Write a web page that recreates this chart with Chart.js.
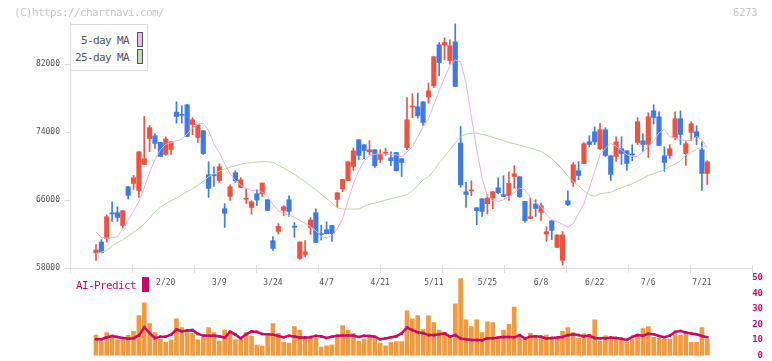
<!DOCTYPE html>
<html>
<head>
<meta charset="utf-8">
<script src="https://cdn.jsdelivr.net/npm/chart.js@4.4.1/dist/chart.umd.min.js"></script>
<style>
  body { margin: 0; background: #fff; }
  #wrap { position: relative; width: 772px; height: 361px; overflow: hidden; font-family: "DejaVu Sans Mono", monospace; }
  #wrap canvas { position: absolute; left: 0; top: 0; }
  .txt { position: absolute; font-size: 11px; letter-spacing: -0.62px; line-height: 11px; white-space: nowrap; }
  #legend { position: absolute; left: 70px; top: 24px; width: 78px; height: 47px; box-sizing: border-box; border: 1px solid #ddd; background: #fff; }
  .sw { position: absolute; width: 6px; height: 15px; box-sizing: border-box; border: 1px solid #555; }
</style>
</head>
<body>
<div id="wrap">
  <canvas id="main" width="772" height="361"></canvas>
  <canvas id="vol" width="772" height="361"></canvas>
  <div class="txt" style="left:14px;top:7px;color:#c8c8c8;">(C)https://chartnavi.com/</div>
  <div class="txt" style="left:733px;top:7px;color:#c8c8c8;">6273</div>
  <div id="legend">
    <div class="txt" style="left:10px;top:10px;color:#555;">5-day MA</div>
    <div class="sw" style="left:66px;top:7px;background:#eab8ec;"></div>
    <div class="txt" style="left:4px;top:27px;color:#555;">25-day MA</div>
    <div class="sw" style="left:66px;top:24px;background:#bcdcb0;"></div>
  </div>
  <div class="txt" style="left:76px;top:280px;color:#cc0a66;">AI-Predict</div>
  <div style="position:absolute;left:142px;top:277px;width:7px;height:15px;background:#cc0a66;"></div>
</div>
<script>
// daily prices (yen)
const opens = [59770,61060,61490,64420,64520,63020,67580,67970,67140,70210,73270,73590,72800,71380,71970,76380,76060,77240,74920,73390,74180,68990,68930,68320,64990,66440,69230,67500,66110,65140,66750,66750,66050,61220,62310,64790,66050,62850,59130,59600,62780,64520,61980,62510,63020,66080,67340,68320,69970,73120,72530,71700,71940,70800,71530,71000,71620,70880,72170,76980,77010,77590,78150,79480,84310,84270,82460,84660,72730,66990,67090,65100,66160,65580,66250,67460,66640,66520,68790,68760,65850,63840,65540,64550,62010,63570,60430,58900,65930,68110,69460,70320,72880,74060,72060,74290,71230,71150,72060,71820,71370,72800,73000,72560,76530,75830,71230,71270,73350,75590,71470,73980,74060,71940,69150];
const highs = [60750,61330,64280,65810,65220,64770,67600,68910,71720,75860,74800,73820,72820,73470,72900,77590,77120,77260,75710,74900,74200,70520,69940,70290,65580,67810,69460,68640,67340,65930,67230,68030,66070,61690,63220,65340,66520,63370,61080,61220,63930,64990,63020,63450,63040,66890,68460,70540,72140,73140,72550,73000,71960,71940,72140,71700,71640,70900,78100,78540,78620,77610,79800,82920,84580,85130,84900,86780,74680,68090,68290,65120,66180,66640,67010,68640,68870,69350,70050,68780,65870,66250,66050,65660,62870,63590,61910,62280,67110,70410,70560,72800,73590,74650,75040,74530,71250,73470,73470,71840,72530,75710,73820,76300,77240,76420,72290,72530,76420,76530,73000,75240,74770,72880,70640];
const lows = [58900,59770,61060,63490,63490,62780,66130,67260,66320,70190,71700,72090,71130,71270,71380,75080,75080,73480,73710,72800,71380,66320,67610,68090,62780,65960,68090,67480,65610,64360,65380,66440,64770,60070,62010,64160,64080,61610,59010,59300,61960,61000,61300,62020,61130,65140,66990,68300,69500,70760,70880,71350,69850,70440,71270,70050,69440,68790,71940,75710,75670,74800,77440,79280,80660,82540,82040,79380,67540,65140,66520,63100,64080,64360,64990,66720,66420,65960,67430,66320,63370,63820,64080,63610,61130,61330,60410,58350,65340,67610,68400,70300,72260,72560,71940,71150,68320,70560,70210,69500,70640,72530,71700,71030,74970,72430,69380,70910,73120,72560,70090,73030,72530,67140,67850];
const closes = [60120,59800,64040,64380,63960,64750,66550,68640,71700,70880,74530,72680,71150,73200,72880,75860,76000,73500,75470,74880,71500,67380,68890,69940,64430,67580,68290,68400,66150,65810,66010,68010,64790,60310,62900,65220,64670,62810,61060,59920,63650,61020,61940,62040,62040,66870,68440,70520,71820,71270,71860,71940,70050,71430,71570,70640,69460,70440,75470,77020,75940,75150,78890,82900,82220,84580,84190,79400,67810,66670,67130,64750,64670,66250,66990,66870,66440,67970,69110,66400,63570,64040,65020,65340,62280,62430,61890,61890,65460,70170,68910,72650,72560,72850,74290,71270,69030,72880,71500,70320,71330,75240,72560,75830,75740,72450,70440,72060,75590,73740,72650,75000,73390,69150,70520];

// moving averages as plotted
const ma5 = [62240,61630,61510,61570,61690,62630,63690,64690,65810,67460,69290,70760,71940,72590,72760,73000,73180,73820,74530,74940,75080,74180,72650,71580,70290,69110,68290,67760,67430,67110,67230,66930,66520,65520,64750,64460,64220,63990,63630,63280,62870,62390,61690,61570,61810,62630,63810,65930,67930,69460,70640,71230,71410,71470,71410,71350,71350,71110,71700,72290,73470,74650,75590,77240,78890,80420,81830,82540,82310,79830,75860,71940,68640,66440,65960,65850,66050,66400,66870,67430,67230,66280,65690,65220,64280,63690,63460,63160,62810,63220,64400,65580,67460,69350,71350,72140,72700,72350,71880,71350,71150,71150,71700,72290,73000,73940,74350,73470,73350,73180,72940,73120,73500,73120,72140];
const ma25 = [59680,59860,60070,60570,60980,61330,61750,62220,62630,63220,63870,64630,65160,65580,65930,66250,66640,66990,67340,67760,68230,68760,69110,69410,69640,69880,70050,70230,70350,70440,70490,70520,70520,70470,70110,69760,69410,69050,68580,68170,67700,67230,66700,66160,65690,65100,64950,64950,64950,64950,65280,65520,65630,65810,66010,66160,66320,66460,66640,67110,67700,68400,68760,69460,70410,71110,71940,72760,73470,73790,73880,73910,73760,73590,73410,73180,73000,72800,72650,72470,72290,72140,71940,71740,71350,70880,70290,69580,68820,68170,67700,67110,66640,66460,66750,66840,66930,67230,67460,67700,67930,68230,68580,68930,69110,69350,69580,69970,70230,70640,71350,71640,72020,72230,72410];

// lower panel
const volumes = [13.2,9.4,14.9,11.8,10.1,10.1,13.0,15.7,25.8,34.0,20.6,14.9,10.7,8.6,10.1,23.7,18.1,16.4,14.3,10.1,11.8,18.1,14.9,9.4,16.4,14.9,10.1,10.1,14.9,12.6,6.7,6.3,12.6,20.6,14.3,8.6,8.0,18.7,16.4,11.1,11.1,11.1,5.5,6.3,6.9,11.8,19.3,16.4,14.3,9.4,10.5,11.8,12.6,8.0,6.3,8.6,9.0,9.0,28.8,23.7,25.8,16.8,25.6,21.2,16.4,14.9,11.8,33.4,49.6,23.1,18.7,23.1,14.9,21.8,21.2,11.1,16.4,20.2,31.3,12.6,10.5,14.3,11.1,12.2,13.2,10.9,11.1,15.7,18.1,14.9,11.1,14.1,13.7,23.1,9.4,12.8,11.1,11.6,11.1,8.6,10.5,13.7,17.4,18.7,11.8,11.1,10.5,10.5,14.1,13.0,14.1,8.6,8.6,18.1,10.5];
const aiPredict = [10.5,10.6,11.8,12.6,12.0,11.3,10.9,11.2,13.0,18.3,14.5,11.2,12.2,12.2,13.5,16.8,15.7,16.2,16.4,14.0,12.9,12.8,12.8,12.5,11.5,15.4,13.5,11.1,13.7,15.6,15.3,13.9,13.7,13.5,12.6,11.8,12.8,12.3,11.7,11.6,11.9,12.7,12.4,11.4,12.2,12.8,13.0,13.0,12.8,12.0,12.8,12.6,12.2,10.5,11.1,11.8,12.4,14.3,18.1,16.4,15.1,14.5,13.2,13.2,13.7,14.3,12.2,13.2,11.1,10.5,10.1,10.1,9.9,11.1,11.1,11.6,12.0,12.0,11.8,13.2,11.1,12.2,12.4,12.1,11.0,11.4,11.6,12.0,13.2,13.7,13.2,12.4,12.8,11.4,11.1,11.1,11.6,11.4,10.9,10.1,12.0,13.2,12.8,14.1,13.7,12.6,11.8,12.8,15.3,15.9,14.9,14.3,13.7,12.6,11.8];

// axis labels
const tickIdx = [13, 23, 33, 43, 53, 63, 73, 83, 93, 103, 113];
const tickText = ["2/20", "3/9", "3/24", "4/7", "4/21", "5/11", "5/25", "6/8", "6/22", "7/6", "7/21"];
const yTicks = [58000, 66000, 74000, 82000];
const volTicks = [0, 10, 20, 30, 40, 50];

const UP = "#ef5340";
const DOWN = "#3d7bea";
const FONT = "DejaVu Sans Mono";
const xMin = -4.85, xMax = 122.34; // leaves the empty margins at both ends
const xSegments = 11; // small marks along the bottom axis

const candleColor = opens.map((o, i) => (closes[i] >= o ? UP : DOWN));

// short marks crossing the bottom axis
const axisMarks = {
  id: "axisMarks",
  afterDraw(chart) {
    const { ctx, chartArea: a } = chart;
    ctx.save();
    ctx.strokeStyle = "#ddd";
    ctx.lineWidth = 1;
    for (let k = 0; k <= xSegments; k++) {
      const x = Math.round(a.left + (k * a.width) / xSegments) + 0.5;
      ctx.beginPath();
      ctx.moveTo(x, a.bottom - 3);
      ctx.lineTo(x, a.bottom + 5);
      ctx.stroke();
    }
    ctx.restore();
  }
};

new Chart(document.getElementById("main"), {
  type: "bar",
  data: {
    datasets: [
      {
        type: "line",
        data: ma5.map((v, i) => ({ x: i, y: v })),
        borderColor: "#e8b0ea",
        borderWidth: 1,
        pointRadius: 0
      },
      {
        type: "line",
        data: ma25.map((v, i) => ({ x: i, y: v })),
        borderColor: "#b5dba5",
        borderWidth: 1,
        pointRadius: 0
      },
      {
        data: opens.map((o, i) => ({ x: i, y: [o, closes[i]] })),
        backgroundColor: candleColor,
        barThickness: 4.5,
        minBarLength: 1,
        grouped: false
      },
      {
        data: lows.map((l, i) => ({ x: i, y: [l, highs[i]] })),
        backgroundColor: candleColor,
        barThickness: 1,
        grouped: false
      }
    ]
  },
  options: {
    responsive: false,
    animation: false,
    events: [],
    layout: { padding: { left: 0, top: 22, right: 20, bottom: 0 } },
    plugins: { legend: { display: false }, tooltip: { enabled: false } },
    scales: {
      x: {
        type: "linear",
        min: xMin,
        max: xMax,
        offset: false,
        afterFit: (s) => { s.height = 93; },
        afterBuildTicks: (s) => { s.ticks = tickIdx.map((v) => ({ value: v })); },
        ticks: {
          callback: (v) => tickText[tickIdx.indexOf(v)],
          font: { family: FONT, size: 8 },
          color: "#555",
          padding: 10,
          maxRotation: 0,
          autoSkip: false
        },
        grid: { display: false, drawTicks: false, offset: false },
        border: { color: "#ddd" }
      },
      y: {
        min: 58000,
        max: 87000,
        afterFit: (s) => { s.width = 70; },
        afterBuildTicks: (s) => { s.ticks = yTicks.map((v) => ({ value: v })); },
        ticks: { callback: (v) => String(v), font: { family: FONT, size: 8 }, color: "#555", padding: 5 },
        grid: { drawOnChartArea: false, tickLength: 5, color: "#ddd" },
        border: { color: "#ddd" }
      }
    }
  },
  plugins: [axisMarks]
});

new Chart(document.getElementById("vol"), {
  type: "bar",
  data: {
    datasets: [
      {
        type: "line",
        data: aiPredict.map((v, i) => ({ x: i, y: v })),
        borderColor: "#cc0a66",
        borderWidth: 2.5,
        pointStyle: "rect",
        pointRadius: 1.8,
        pointBorderWidth: 0,
        pointBackgroundColor: "#cc0a66"
      },
      {
        data: volumes.map((v, i) => ({ x: i, y: v })),
        backgroundColor: "#f39a3f",
        barThickness: 4,
        grouped: false
      }
    ]
  },
  options: {
    responsive: false,
    animation: false,
    events: [],
    layout: { padding: { left: 70, top: 278, right: 9, bottom: 3 } },
    plugins: { legend: { display: false }, tooltip: { enabled: false } },
    scales: {
      x: { type: "linear", min: xMin, max: xMax, offset: false, display: false },
      y: {
        position: "right",
        min: 0,
        max: 50,
        afterFit: (s) => { s.width = 11; },
        afterBuildTicks: (s) => { s.ticks = volTicks.map((v) => ({ value: v })); },
        ticks: { crossAlign: "far", padding: 0, color: "#cc0a66", font: { family: FONT, size: 9, weight: "bold" } },
        grid: { display: false, drawTicks: false },
        border: { display: false }
      }
    }
  }
});
</script>
</body>
</html>
